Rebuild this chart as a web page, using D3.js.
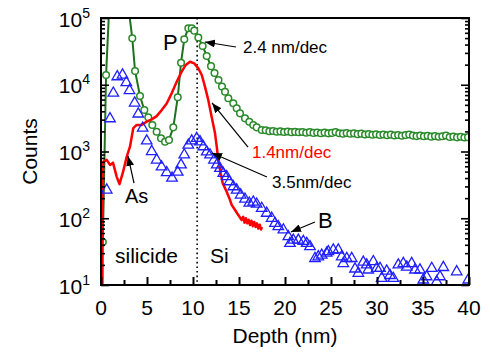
<!DOCTYPE html>
<html>
<head>
<meta charset="utf-8">
<script src="https://cdn.jsdelivr.net/npm/d3@7"></script>
<style>
body { margin: 0; background: #fff; }
svg text { font-family: "Liberation Sans", Arial, sans-serif; }
</style>
</head>
<body>
<svg id="chart" width="490" height="357"></svg>
<script>
// P profile (green circles + line)
let pDepth = [0.2, 0.55, 1.0, 1.45, 1.95, 2.45, 2.95, 3.4, 3.7, 4.24, 4.71, 5.14, 5.58, 6.05, 6.52, 6.96,
	7.39, 7.86, 8.34, 8.7, 9.05, 9.49, 9.86, 10.14, 10.58, 11.05, 11.49, 11.96, 12.34, 12.77, 13.15, 13.48,
	13.84, 14.38, 14.75, 15.11, 15.65, 16.12, 16.55, 16.92, 17.47,
	17.9, 18.3, 18.7, 19.1, 19.5, 19.9, 20.3, 20.7, 21.1, 21.5, 21.9, 22.3, 22.7, 23.1, 23.5, 23.9,
	24.3, 24.7, 25.1, 25.5, 25.9, 26.3, 26.7, 27.1, 27.5, 27.9, 28.3, 28.7, 29.1, 29.5, 29.9, 30.3,
	30.7, 31.1, 31.5, 31.9, 32.3, 32.7, 33.1, 33.5, 33.9, 34.3, 34.7, 35.1, 35.5, 35.9, 36.3, 36.7,
	37.1, 37.5, 37.9, 38.3, 38.7, 39.1, 39.5, 39.9];
let pCounts = [44, 14000, 300000, 800000, 1000000, 600000, 160000, 49700, 16100, 6780, 4190, 3250, 2490, 1980, 1580, 1400,
	1490, 2300, 6490, 21400, 48000, 70100, 70100, 64600, 51000, 38000, 27000, 19000, 15000, 11800, 9400, 7870,
	6270, 5270, 4440, 3730, 3140, 2790, 2490, 2300, 2100,
	2080, 2010, 2030, 1980, 2000, 1960, 1990, 1950, 1970, 1940, 1960, 1910, 1950, 1900, 1930, 1880,
	1920, 1870, 1900, 1960, 1880, 1850, 1890, 1840, 1870, 1820, 1850, 1800, 1830, 1780, 1810, 1770,
	1800, 1750, 1790, 1740, 1770, 1720, 1760, 1800, 1730, 1700, 1740, 1690, 1720, 1670, 1700, 1660,
	1690, 1740, 1650, 1680, 1630, 1660, 1620, 1640];

// As profile (red line)
let asDepth = [0.15, 0.22, 0.62, 0.98, 1.3, 1.71, 2.01, 2.39, 2.79, 3.15, 3.51, 3.88, 4.42, 4.97, 5.51, 6.05,
	6.6, 7.14, 7.68, 8.23, 8.77, 9.21, 9.67, 10.14, 10.58, 10.95, 11.3, 11.66, 12.03, 12.39, 12.58, 12.75,
	13.01, 13.23, 13.66, 13.95, 14.21, 14.57, 14.92, 15.29, 15.45, 15.6, 15.75, 15.9, 16.05, 16.2, 16.35,
	16.5, 16.65, 16.8, 16.95, 17.1, 17.25, 17.4, 17.5];
let asCounts = [8, 700, 750, 630, 680, 417, 324, 490, 830, 1180, 2240, 2500, 2500, 2800, 3030, 3390,
	4170, 5250, 7430, 11100, 15700, 19800, 22100, 20900, 17600, 14000, 9360, 5900, 3300, 1890, 1180, 746,
	471, 334, 250, 200, 158, 133, 112, 94, 105, 86, 100, 84, 95, 79, 92,
	76, 88, 74, 84, 70, 80, 68, 74];

// B profile (blue triangles)
let bDepth = [0.62, 0.98, 1.34, 1.77, 2.34, 2.75, 3.1, 3.66, 4.05, 4.53, 4.97, 5.51, 6.05, 6.58, 7.14, 7.72,
	8.34, 8.7, 9.05, 9.49, 9.86, 10.4, 10.76, 11.12, 11.49, 11.85, 12.28, 12.58, 12.93, 13.29, 13.66, 13.95,
	14.38, 14.75, 15.18, 15.65, 16.12, 16.55, 16.92, 17.47, 18.01, 18.55, 18.91, 19.27, 19.82, 20.36, 20.9,
	21.45, 20.54, 21.99, 22.36, 22.72, 23.26, 23.62, 23.99, 24.53, 24.71, 25.25, 25.79, 26.16, 26.34, 26.71,
	27.25, 27.61, 27.97, 28.51, 28.88, 29.05, 29.6, 29.97, 30.33, 30.51, 31.05, 31.41, 31.77, 32.32, 32.86,
	33.23, 33.77, 34.13, 34.67, 35.03, 35.4, 35.95, 36.49, 36.85, 37.21, 38.66, 39.92];
let bCounts = [265, 3100, 7500, 13200, 14000, 10800, 8200, 5330, 3650, 2240, 1440, 1000, 746, 590, 484, 400,
	490, 630, 890, 1250, 1440, 1570, 1400, 1180, 990, 890, 746, 630, 560, 470, 420, 353,
	297, 265, 223, 194, 169, 175, 163, 141, 119, 100, 84, 75, 67, 53, 47,
	47, 42, 45, 42, 37.5, 25, 26.5, 28, 30, 31.6, 33.5, 33.5, 26.5, 21, 25,
	25, 17.4, 15, 22, 20, 16.8, 22.4, 17.8, 17.8, 12.6, 16.2, 13.9, 12.6, 20, 21,
	18.6, 21, 16.8, 16.8, 11.9, 13.3, 17.8, 11.2, 13.3, 18.3, 15.8, 11.9];

let xTicks = [0, 5, 10, 15, 20, 25, 30, 35, 40];
let xMinor = [2.5, 7.5, 12.5, 17.5, 22.5, 27.5, 32.5, 37.5];
let yTicks = [10, 100, 1000, 10000, 100000];
let interfaceDepth = 10.45;

// text annotations, placed in data coordinates
let notes = [
	{text: "P", d: 6.74, c: 33200, size: 22, color: "#000"},
	{text: "2.4 nm/dec", d: 15.43, c: 29900, size: 17, color: "#000"},
	{text: "1.4nm/dec", d: 16.41, c: 800, size: 17, color: "#ff0000"},
	{text: "3.5nm/dec", d: 18.59, c: 284, size: 17, color: "#000"},
	{text: "B", d: 23.59, c: 71.5, size: 22, color: "#000"},
	{text: "As", d: 2.61, c: 169, size: 20, color: "#000"},
	{text: "silicide", d: 1.52, c: 21.4, size: 21, color: "#000"},
	{text: "Si", d: 11.85, c: 21.4, size: 21, color: "#000"}
];
let arrows = [
	{from: [14.67, 36800], to: [11.3, 43700]},
	{from: [15.98, 1167], to: [12.07, 5330]},
	{from: [18.04, 415], to: [12.07, 951]},
	{from: [23.26, 88], to: [20.65, 62.2]},
	{from: [3.59, 337], to: [2.93, 857]}
];

let width = 490, height = 357;
let margin = {top: 18, right: 21, bottom: 72, left: 101};

let svg = d3.select("#chart");

let x = d3.scaleLinear().domain([0, 40]).range([margin.left, width - margin.right]);
let y = d3.scaleLog().domain([10, 100000]).range([height - margin.bottom, margin.top]);

let defs = svg.append("defs");
defs.append("clipPath").attr("id", "plot-clip")
	.append("rect")
	.attr("x", x(0)).attr("y", y(100000))
	.attr("width", x(40) - x(0)).attr("height", y(10) - y(100000));
defs.append("marker")
	.attr("id", "arrow")
	.attr("markerUnits", "userSpaceOnUse")
	.attr("markerWidth", 11).attr("markerHeight", 8)
	.attr("refX", 10).attr("refY", 4)
	.attr("orient", "auto")
	.append("path")
	.attr("d", "M0,0 L10,4 L0,8 z")
	.attr("fill", "#000");

let plot = svg.append("g").attr("clip-path", "url(#plot-clip)");

// dotted line marking the silicide / Si interface
plot.append("line")
	.attr("x1", x(interfaceDepth)).attr("x2", x(interfaceDepth))
	.attr("y1", y(100000)).attr("y2", y(10))
	.attr("stroke", "#000")
	.attr("stroke-width", 1.6)
	.attr("stroke-dasharray", "1.6,3");

// P: line then hollow circles
let pData = pDepth.map((d, i) => ({d: d, c: pCounts[i]}));
let line = d3.line().x(p => x(p.d)).y(p => y(p.c));
plot.append("path")
	.datum(pData)
	.attr("d", line)
	.attr("fill", "none")
	.attr("stroke", "#1f701f")
	.attr("stroke-width", 2);
plot.selectAll(".p-dot")
	.data(pData)
	.join("circle")
	.attr("class", "p-dot")
	.attr("cx", p => x(p.d))
	.attr("cy", p => y(p.c))
	.attr("r", 3.3)
	.attr("fill", "#fff")
	.attr("stroke", "#2a8a2a")
	.attr("stroke-width", 1.5);

// As: red line
let asData = asDepth.map((d, i) => ({d: d, c: asCounts[i]}));
plot.append("path")
	.datum(asData)
	.attr("d", line)
	.attr("fill", "none")
	.attr("stroke", "#ff0000")
	.attr("stroke-width", 2.5)
	.attr("stroke-linejoin", "round");

// B: hollow triangles
let bData = bDepth.map((d, i) => ({d: d, c: bCounts[i]}));
let tri = d3.symbol().type(d3.symbolTriangle).size(48);
plot.selectAll(".b-dot")
	.data(bData)
	.join("path")
	.attr("class", "b-dot")
	.attr("transform", p => `translate(${x(p.d)},${y(p.c)})`)
	.attr("d", tri)
	.attr("fill", "none")
	.attr("stroke", "#1f1fff")
	.attr("stroke-width", 1.3);

// frame
svg.append("rect")
	.attr("x", x(0)).attr("y", y(100000))
	.attr("width", x(40) - x(0)).attr("height", y(10) - y(100000))
	.attr("fill", "none")
	.attr("stroke", "#000")
	.attr("stroke-width", 2);

// x axis ticks (inward) and labels
let xAxis = svg.append("g").attr("transform", `translate(0,${y(10)})`);
xAxis.call(d3.axisBottom(x).tickValues(xTicks).tickSize(-8).tickFormat(""));
xAxis.append("g").call(d3.axisBottom(x).tickValues(xMinor).tickSize(-5).tickFormat(""));
xAxis.selectAll(".domain").remove();
xAxis.selectAll("line").attr("stroke", "#000").attr("stroke-width", 2);

svg.selectAll(".xlabel")
	.data(xTicks)
	.join("text")
	.attr("class", "xlabel")
	.attr("x", d => x(d))
	.attr("y", y(10) + 30)
	.attr("text-anchor", "middle")
	.attr("font-size", 21)
	.text(d => d);

// y axes: major + log minor ticks on both sides, inward
let yMinor = [];
yTicks.slice(0, -1).forEach(t => { for (let k = 2; k <= 9; k++) yMinor.push(t * k); });

[["left", d3.axisLeft, x(0), -1], ["right", d3.axisRight, x(40), 1]].forEach(([name, axisFn, pos]) => {
	let g = svg.append("g").attr("transform", `translate(${pos},0)`);
	g.call(axisFn(y).tickValues(yTicks).tickSize(-8).tickFormat(""));
	g.append("g").call(axisFn(y).tickValues(yMinor).tickSize(-4).tickFormat(""));
	g.selectAll(".domain").remove();
	g.selectAll("line").attr("stroke", "#000").attr("stroke-width", 1.6);
});

let ylab = svg.selectAll(".ylabel")
	.data(yTicks)
	.join("text")
	.attr("class", "ylabel")
	.attr("x", x(0) - 11)
	.attr("y", d => y(d) + 8.5)
	.attr("text-anchor", "end")
	.attr("font-size", 21);
ylab.append("tspan").text("10");
ylab.append("tspan").attr("dy", -9).attr("font-size", 14).text(d => Math.round(Math.log10(d)));

// axis titles
svg.append("text")
	.attr("x", (x(0) + x(40)) / 2)
	.attr("y", 343)
	.attr("text-anchor", "middle")
	.attr("font-size", 21)
	.text("Depth (nm)");
svg.append("text")
	.attr("transform", `translate(37,${(y(10) + y(100000)) / 2}) rotate(-90)`)
	.attr("text-anchor", "middle")
	.attr("font-size", 21)
	.text("Counts");

// annotations
svg.selectAll(".arrow")
	.data(arrows)
	.join("line")
	.attr("class", "arrow")
	.attr("x1", a => x(a.from[0])).attr("y1", a => y(a.from[1]))
	.attr("x2", a => x(a.to[0])).attr("y2", a => y(a.to[1]))
	.attr("stroke", "#000")
	.attr("stroke-width", 1.2)
	.attr("marker-end", "url(#arrow)");

svg.selectAll(".note")
	.data(notes)
	.join("text")
	.attr("class", "note")
	.attr("x", n => x(n.d))
	.attr("y", n => y(n.c))
	.attr("font-size", n => n.size)
	.attr("fill", n => n.color)
	.text(n => n.text);
</script>
</body>
</html>
